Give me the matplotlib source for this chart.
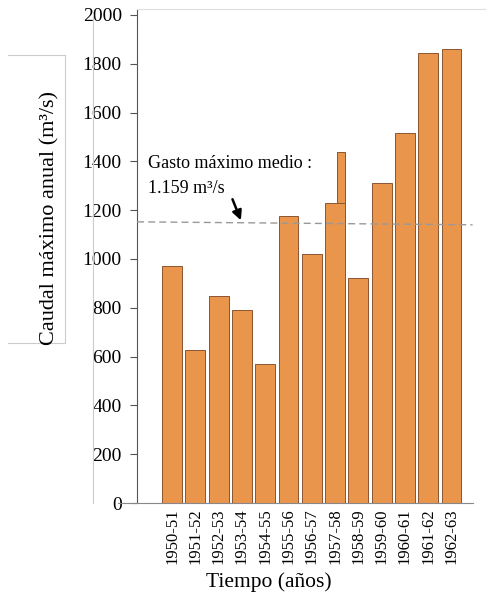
import matplotlib
matplotlib.use("Agg")
import matplotlib.pyplot as plt
from matplotlib.lines import Line2D

periods = ["1950-51", "1951-52", "1952-53", "1953-54", "1954-55", "1955-56", "1956-57",
           "1957-58", "1958-59", "1959-60", "1960-61", "1961-62", "1962-63"]
caudal = [972, 628, 850, 790, 570, 1176, 1020, 1230, 922, 1311, 1516, 1844, 1861]
peak_1957 = 1440
peak_index = 7
mean_value = 1159
mean_line = [1152, 1140]

plt.rcParams['font.family'] = ['Liberation Serif', 'DejaVu Serif']

W, H = 486, 600
fig = plt.figure(figsize=(W / 100, H / 100), dpi=100)
ax = fig.add_axes([118 / W, 1 - 503 / H, (473 - 118) / W, (503 - 10) / H])

x = list(range(len(periods)))
bw = 0.85
face = "#EA954C"
edge = "#8A5530"
ax.bar(x, caudal, width=bw, color=face, edgecolor=edge, linewidth=0.7, zorder=2)
ax.bar(x[peak_index] + bw / 2 - bw * 0.2, peak_1957 - caudal[peak_index], width=bw * 0.4,
       bottom=caudal[peak_index], color=face, edgecolor=edge, linewidth=0.7, zorder=2)

ax.set_xlim(-2.32, 12.92)
ax.set_ylim(0, 2020)
ax.set_yticks(range(0, 2001, 200))
ax.set_xticks(x)
ax.set_xticklabels(periods, rotation=90, fontsize=12)
ax.tick_params(axis='x', length=0, pad=4)
ax.tick_params(axis='y', length=5, width=0.8, pad=6, labelsize=14, color="#555555")

for s in ["top", "right"]:
    ax.spines[s].set_visible(False)
ax.spines["left"].set_position(("data", -1.5))
ax.spines["left"].set_color("#555555")
ax.spines["bottom"].set_color("#888888")

# mean line
ax.plot([-1.5, 12.9], mean_line, linestyle=(0, (5, 3)), color="#999999", linewidth=1, zorder=3)

ax.text(-1.05, 1390, "Gasto máximo medio :", fontsize=13, ha="left", va="center")
ax.text(-1.05, 1290, "1.159 m³/s", fontsize=13, ha="left", va="center")
ax.annotate("", xy=(3.0, 1148), xytext=(2.55, 1255),
            arrowprops=dict(arrowstyle="-|>", color="black", lw=1.8, mutation_scale=14))

fig.text(50 / W, 1 - 218 / H, "Caudal máximo anual (m³/s)", rotation=90,
         fontsize=16, ha="center", va="center")
fig.text(269 / W, 1 - 582 / H, "Tiempo (años)", fontsize=15.5, ha="center", va="center")

# scan frame lines
def pline(x0, y0, x1, y1, c="#cccccc", lw=0.8):
    fig.add_artist(Line2D([x0 / W, x1 / W], [1 - y0 / H, 1 - y1 / H], color=c, lw=lw,
                          transform=fig.transFigure))

pline(93, 14, 93, 503)
pline(8, 55, 65, 55)
pline(65, 55, 65, 343)
pline(8, 343, 65, 343)
pline(137, 9, 486, 9, c="#dddddd")

fig.savefig("out.png", dpi=100)
